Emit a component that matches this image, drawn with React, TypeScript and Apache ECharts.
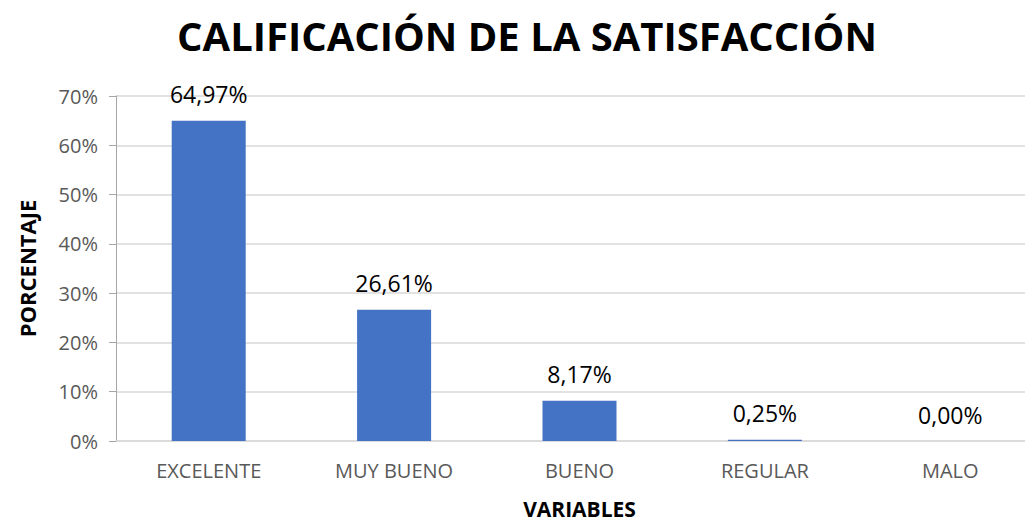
import React, { useEffect, useRef } from "react";
import * as echarts from "echarts";

const categories = ["EXCELENTE", "MUY BUENO", "BUENO", "REGULAR", "MALO"];
const values = [64.97, 26.61, 8.17, 0.25, 0.0];
const titleText = "CALIFICACIÓN DE LA SATISFACCIÓN";
const yName = "PORCENTAJE";
const xName = "VARIABLES";

export default function App() {
  const ref = useRef<HTMLDivElement>(null);
  useEffect(() => {
    if (!ref.current) return;
    const chart = echarts.init(ref.current, null, { renderer: "svg" });
    chart.setOption({
      animation: false,
      backgroundColor: "#ffffff",
      title: {
        text: titleText,
        left: 522,
        textAlign: "center",
        top: 10,
        textStyle: {
          fontFamily: "Open Sans",
          fontWeight: "bold",
          fontSize: 40,
          color: "#000000",
        },
      },
      grid: { left: 116, right: -18, top: 96, bottom: 81, containLabel: false, outerBoundsMode: "none" },
      xAxis: {
        type: "category",
        data: categories,
        name: xName,
        nameLocation: "middle",
        nameGap: 57,
        nameTextStyle: { fontFamily: "Open Sans", fontWeight: "bold", fontSize: 21, color: "#000" },
        axisLine: { show: true, lineStyle: { color: "#d9d9d9", width: 1.5 } },
        axisTick: { show: false },
        axisLabel: { fontFamily: "Open Sans", fontSize: 20, color: "#595959", margin: 19 },
      },
      yAxis: {
        type: "value",
        min: 0,
        max: 70,
        interval: 10,
        name: yName,
        nameLocation: "middle",
        nameGap: 78,
        nameTextStyle: { fontFamily: "Open Sans", fontWeight: "bold", fontSize: 22, color: "#000" },
        axisLine: { show: true, lineStyle: { color: "#a6a6a6", width: 1 } },
        axisTick: { show: true, length: 7, lineStyle: { color: "#a6a6a6" } },
        axisLabel: { fontFamily: "Open Sans", fontSize: 20, color: "#595959", margin: 18, formatter: "{value}%" },
        splitLine: { show: true, lineStyle: { color: "#d9d9d9", width: 1.5 } },
      },
      series: [
        {
          type: "bar",
          data: values,
          barWidth: 74,
          itemStyle: { color: "#4472c4" },
          label: {
            show: true,
            position: "top",
            distance: 15,
            fontFamily: "Open Sans",
            fontSize: 23,
            color: "#000",
            formatter: (p: any) => p.value.toFixed(2).replace(".", ",") + "%",
          },
        },
      ],
    });
    return () => chart.dispose();
  }, []);
  return <div ref={ref} style={{ position: "fixed", left: 0, top: 0, width: 1025, height: 522 }} />;
}
